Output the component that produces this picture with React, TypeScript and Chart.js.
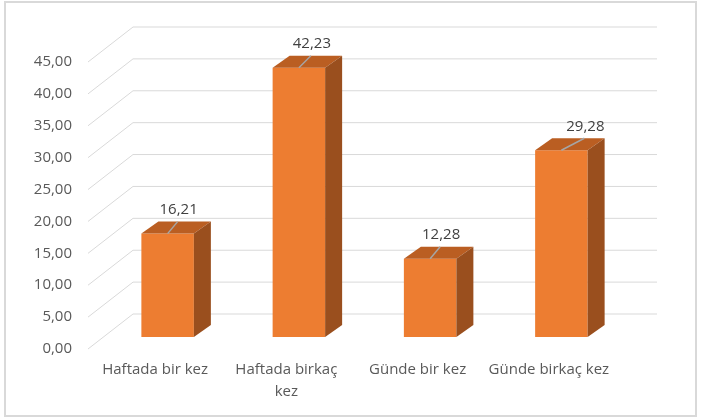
import React, { useEffect, useRef } from "react";
import { Chart, registerables } from "chart.js";

Chart.register(...registerables);

const categories: (string | string[])[] = [
  "Haftada bir kez",
  ["Haftada birkaç", "kez"],
  "Günde bir kez",
  "Günde birkaç kez",
];
const values: number[] = [16.21, 42.23, 12.28, 29.28];
const yMin = 0;
const yMax = 45;
const yStep = 5;

// label nudges (style only)
const leaderDx: number[] = [10, 12, 10, 23];

const FONT = "'Open Sans', sans-serif";
const FRONT = "#ED7D31";
const TOP = "#BA5E22";
const SIDE = "#9A4F1E";
const GRID = "#D9D9D9";

const fmt = (v: number) => v.toFixed(2).replace(".", ",");

const threeD = {
  id: "threeD",
  beforeDatasetsDraw(chart: any) {
    const { ctx, chartArea } = chart;
    const ys = chart.scales.y;
    ctx.save();
    ctx.strokeStyle = GRID;
    ctx.lineWidth = 1;
    for (let v = yMin; v <= yMax; v += yStep) {
      const p = ys.getPixelForValue(v);
      ctx.beginPath();
      ctx.moveTo(chartArea.left - 14, p + 12);
      ctx.lineTo(chartArea.left + 31, p - 23);
      ctx.lineTo(chartArea.right + 30, p - 23);
      ctx.stroke();
    }
    ctx.restore();
  },
  afterDatasetsDraw(chart: any) {
    const { ctx } = chart;
    const meta = chart.getDatasetMeta(0);
    const dx = 17;
    const dy = 12;
    ctx.save();
    meta.data.forEach((bar: any, i: number) => {
      const l = bar.x - bar.width / 2;
      const r = bar.x + bar.width / 2;
      const t = bar.y;
      const b = bar.base;
      ctx.fillStyle = TOP;
      ctx.beginPath();
      ctx.moveTo(l, t);
      ctx.lineTo(r, t);
      ctx.lineTo(r + dx, t - dy);
      ctx.lineTo(l + dx, t - dy);
      ctx.closePath();
      ctx.fill();
      ctx.fillStyle = SIDE;
      ctx.beginPath();
      ctx.moveTo(r, t);
      ctx.lineTo(r + dx, t - dy);
      ctx.lineTo(r + dx, b - dy);
      ctx.lineTo(r, b);
      ctx.closePath();
      ctx.fill();
      // leader + label
      const ldx = leaderDx[i];
      ctx.strokeStyle = "#A6A6A6";
      ctx.lineWidth = 1.5;
      ctx.beginPath();
      ctx.moveTo(bar.x, t);
      ctx.lineTo(bar.x + ldx, t - 12);
      ctx.stroke();
      ctx.fillStyle = "#404040";
      ctx.font = `15px ${FONT}`;
      ctx.textAlign = "center";
      ctx.textBaseline = "middle";
      ctx.fillText(fmt(values[i]), bar.x + ldx + 1, t - 24);
    });
    // outer border
    ctx.strokeStyle = GRID;
    ctx.lineWidth = 2;
    ctx.strokeRect(5, 2, 691, 414);
    ctx.restore();
  },
};

export default function App() {
  const ref = useRef<HTMLCanvasElement | null>(null);
  useEffect(() => {
    if (!ref.current) return;
    const chart = new Chart(ref.current, {
      type: "bar",
      data: {
        labels: categories,
        datasets: [
          {
            data: values,
            backgroundColor: FRONT,
            borderWidth: 0,
            barPercentage: 0.4,
            categoryPercentage: 1,
          },
        ],
      },
      options: {
        animation: false,
        responsive: false,
        maintainAspectRatio: false,
        layout: { padding: { left: 0, right: 81, top: 50, bottom: 0 } },
        plugins: { legend: { display: false }, tooltip: { enabled: false } },
        scales: {
          x: {
            offset: true,
            border: { display: false },
            grid: { display: false, drawTicks: false },
            ticks: {
              autoSkip: false,
              maxRotation: 0,
              minRotation: 0,
              labelOffset: -12.5,
              padding: 22,
              color: "#595959",
              font: { family: FONT, size: 15, lineHeight: 1.45 },
            },
            afterFit: (s: any) => {
              s.height = 82;
            },
          },
          y: {
            min: yMin,
            max: yMax,
            border: { display: false },
            grid: { display: false, drawTicks: false },
            ticks: {
              stepSize: yStep,
              padding: 30,
              labelOffset: 12,
              color: "#595959",
              font: { family: FONT, size: 15 },
              callback: (v: any) => fmt(Number(v)),
            },
            afterFit: (s: any) => {
              s.width = 102;
            },
          },
        },
      },
      plugins: [threeD],
    });
    return () => chart.destroy();
  }, []);
  return (
    <div style={{ position: "fixed", left: 0, top: 0, width: 708, height: 419, background: "#fff" }}>
      <canvas ref={ref} width={708} height={419} style={{ width: 708, height: 419 }} />
    </div>
  );
}
